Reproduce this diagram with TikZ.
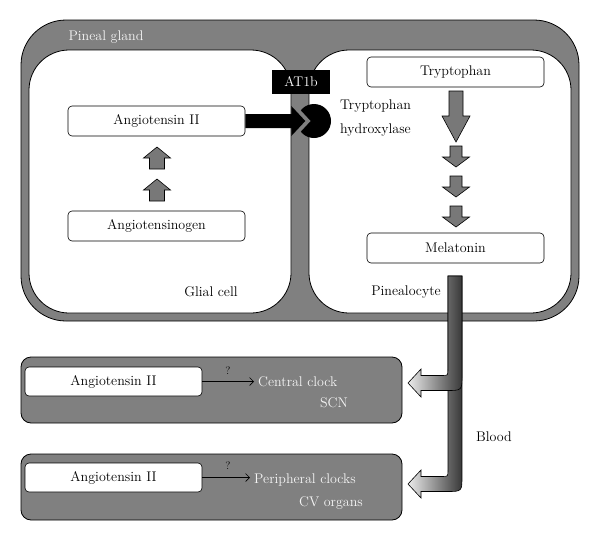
\documentclass[tikz,border=0pt]{standalone}
\usepackage{tikz}
\usetikzlibrary{arrows.meta}
\definecolor{pg}{gray}{0.50}
\definecolor{ag}{gray}{0.47}
\definecolor{wt}{gray}{0.96}
\begin{document}
\begin{tikzpicture}[x=1pt,y=-1pt,
  every node/.style={font=\fontsize{14}{17}\selectfont, inner sep=0pt},
  cell/.style={draw=black, fill=white, rounded corners=40pt, line width=0.8pt, minimum width=262pt, minimum height=263pt},
  wbox/.style={draw=black, fill=white, rounded corners=4pt, line width=0.6pt, minimum width=177pt, minimum height=30pt},
  graybox/.style={draw=black, fill=pg, line width=0.8pt},
  wtext/.style={text=wt},
  qarrow/.style={line width=0.6pt, -{Straight Barb[length=4pt,width=8pt]}},
  garrow/.style={draw=black, fill=ag, line width=0.6pt, line join=miter},
  tube/.style={draw=black, line width=0.6pt, left color=white!92!black, right color=black!78},
  pics/uparr/.style={code={\draw[garrow] (0,0) -- (13.5,11) -- (7.5,11) -- (7.5,22) -- (-7.5,22) -- (-7.5,11) -- (-13.5,11) -- cycle;}},
  pics/dnarr/.style={code={\draw[garrow] (0,0) -- (13.5,-10) -- (6,-10) -- (6,-21) -- (-6,-21) -- (-6,-10) -- (-13.5,-10) -- cycle;}},
  pics/bigdnarr/.style={code={\draw[garrow] (0,0) -- (14,-26) -- (7,-26) -- (7,-51) -- (-7,-51) -- (-7,-26) -- (-14,-26) -- cycle;}}
]
\useasboundingbox (0,0) rectangle (600,541);

% pineal gland
\node[graybox, rounded corners=45pt, minimum width=558pt, minimum height=301pt] (pineal) at (300,170.5) {};
\node[wtext] (pglabel) at (106,37) {Pineal gland};
\node[cell] (glial) at (160,181.5) {};
\node[cell] (pinea) at (440,181.5) {};
\node (glialtxt) at (211,292) {Glial cell};
\node (pineatxt) at (406,292) {Pinealocyte};

% glial cell content
\node[wbox] (ang2) at (156.5,121) {Angiotensin II};
\node[wbox] (angen) at (156.5,226) {Angiotensinogen};
\pic at (157,147) {uparr};
\pic at (157,179) {uparr};

% receptor
\node[fill=black, minimum width=58pt, minimum height=24pt, text=white] (at1b) at (301,82) {AT1b};
\node[circle, fill=black, minimum size=34pt] (rec) at (314,121) {};
\fill[pg] (292,101) -- (310.5,121) -- (292,141) -- cycle;
\fill[black] ([yshift=7pt]ang2.east) -- ++(46,0) -- ++(0,-8) -- ++(14,15) -- ++(-14,15) -- ++(0,-8) -- ([yshift=-7pt]ang2.east) -- cycle;
\node[anchor=west, align=left, font=\fontsize{14}{24}\selectfont] (th) at (340,118) {Tryptophan\\hydroxylase};

% pinealocyte content
\node[wbox] (trp) at (455.5,72) {Tryptophan};
\node[wbox] (mel) at (455.5,248) {Melatonin};
\pic at (456,142) {bigdnarr};
\pic at (456,167) {dnarr};
\pic at (456,197) {dnarr};
\pic at (456,227) {dnarr};

% blood
\shadedraw[tube] (448,276) -- (448,470) .. controls (448,476.5) .. (442,476.5) -- (421,476.5) -- (421,470) -- (408,484) -- (421,498) -- (421,491.5) -- (447,491.5) .. controls (462,491.5) .. (462,476) -- (462,276) -- cycle;
\shadedraw[tube] (448,276) -- (448,369) .. controls (448,375.5) .. (442,375.5) -- (421,375.5) -- (421,369) -- (408,383) -- (421,397) -- (421,390.5) -- (447,390.5) .. controls (462,390.5) .. (462,375) -- (462,276) -- cycle;
\node (blood) at (494,437) {Blood};

% central clock
\node[graybox, rounded corners=10pt, minimum width=381pt, minimum height=66pt] (b1) at (211.5,390) {};
\node[wbox, minimum height=29pt] (a1) at (113.5,381.5) {Angiotensin II};
\node[wtext, anchor=west] (c1) at (258,382) {Central clock};
\node[wtext, anchor=east] (s1) at (348,403) {SCN};
\draw[qarrow] (a1.east) -- ([xshift=-4pt]a1.east -| c1.west);
\node[font=\fontsize{11}{12}\selectfont] (q1) at (228,371) {?};

% peripheral clocks
\node[graybox, rounded corners=10pt, minimum width=381pt, minimum height=66pt] (b2) at (211.5,487) {};
\node[wbox, minimum height=29pt] (a2) at (113.5,477.5) {Angiotensin II};
\node[wtext, anchor=west] (c2) at (254,480) {Peripheral clocks};
\node[wtext, anchor=east] (s2) at (363,503) {CV organs};
\draw[qarrow] (a2.east) -- ([xshift=-4pt]a2.east -| c2.west);
\node[font=\fontsize{11}{12}\selectfont] (q2) at (228,466) {?};
\end{tikzpicture}
\end{document}
